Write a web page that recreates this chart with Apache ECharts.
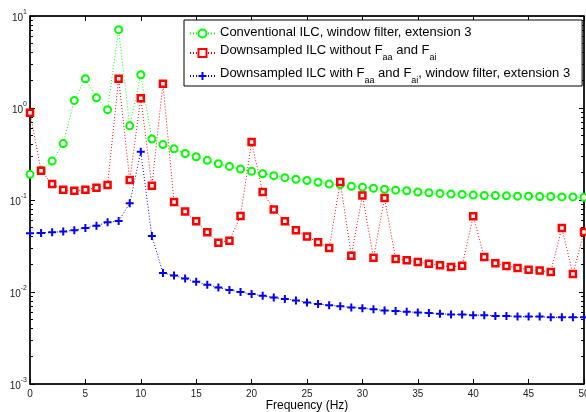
<!DOCTYPE html>
<html>
<head>
<meta charset="utf-8">
<script src="https://cdn.jsdelivr.net/npm/echarts@6/dist/echarts.min.js"></script>
<style>
  html, body { margin: 0; padding: 0; background: #fff; }
  #main { width: 586px; height: 412px; }
</style>
</head>
<body>
<div id="main"></div>
<script>
// frequency bins (Hz)
var freq = [0, 1, 2, 3, 4, 5, 6, 7, 8, 9, 10, 11, 12, 13, 14, 15, 16, 17, 18, 19, 20,
  21, 22, 23, 24, 25, 26, 27, 28, 29, 30, 31, 32, 33, 34, 35, 36, 37, 38, 39, 40,
  41, 42, 43, 44, 45, 46, 47, 48, 49, 50];

// Conventional ILC, window filter, extension 3
var conventional = [0.19, 0.21, 0.265, 0.41, 1.21, 2.08, 1.29, 0.96, 7.1, 0.64, 2.30,
  0.46, 0.40, 0.36, 0.32, 0.295, 0.27, 0.248, 0.232, 0.217, 0.205,
  0.193, 0.184, 0.175, 0.168, 0.163, 0.156, 0.149, 0.147, 0.141, 0.138,
  0.134, 0.131, 0.128, 0.126, 0.122, 0.120, 0.118, 0.116, 0.115, 0.113,
  0.112, 0.112, 0.111, 0.110, 0.110, 0.109, 0.109, 0.108, 0.108, 0.107];

// Downsampled ILC without Faa and Fai
var withoutF = [0.89, 0.208, 0.149, 0.129, 0.126, 0.129, 0.136, 0.146, 2.08, 0.165, 1.28,
  0.143, 1.84, 0.095, 0.075, 0.0587, 0.0445, 0.0344, 0.0361, 0.067, 0.427,
  0.122, 0.079, 0.0587, 0.047, 0.040, 0.0347, 0.030, 0.157, 0.0248, 0.112,
  0.0236, 0.105, 0.0229, 0.0221, 0.0212, 0.0203, 0.0195, 0.0187, 0.0193, 0.0665,
  0.024, 0.0205, 0.0192, 0.0182, 0.0175, 0.0171, 0.0165, 0.0497, 0.0157, 0.045];

// Downsampled ILC with Faa and Fai, window filter, extension 3
var withF = [0.0434, 0.0438, 0.0445, 0.0455, 0.047, 0.0497, 0.0526, 0.0572, 0.0591, 0.092, 0.335,
  0.0406, 0.0161, 0.0151, 0.0140, 0.0129, 0.0120, 0.0112, 0.0105, 0.0100, 0.0095,
  0.0091, 0.0087, 0.0084, 0.0081, 0.0077, 0.0074, 0.0072, 0.0070, 0.0068, 0.00665,
  0.0065, 0.0063, 0.0062, 0.0061, 0.0060, 0.0059, 0.0058, 0.0057, 0.0057, 0.0056,
  0.0056, 0.0055, 0.0055, 0.0054, 0.0054, 0.0054, 0.0053, 0.0053, 0.0053, 0.0053];

var seriesNames = [
  'Conventional ILC, window filter, extension 3',
  'Downsampled ILC without Faa and Fai',
  'Downsampled ILC with Faa and Fai, window filter, extension 3'
];
// legend text with subscripts
var legendRich = {};
legendRich[seriesNames[0]] = '{t|Conventional ILC, window filter, extension 3}';
legendRich[seriesNames[1]] = '{t|Downsampled ILC without F}{s|aa}{t| and F}{s|ai}';
legendRich[seriesNames[2]] = '{t|Downsampled ILC with F}{s|aa}{t| and F}{s|ai}{t|, window filter, extension 3}';

// y axis: decades and minor tick multipliers
var yMin = 0.001, yMax = 10;
var minorMult = [2, 3, 4, 5, 6, 7, 8, 9];
var decades = [-3, -2, -1, 0];

var minorTicks = [];
decades.forEach(function (k) {
  minorMult.forEach(function (m) { minorTicks.push(k + Math.log10(m)); });
});

function pairs(ys) {
  return freq.map(function (f, i) { return [f, ys[i]]; });
}

var FONT = 'Liberation Sans, Arial, Helvetica, sans-serif';
var plus = 'path://M3,0h2v3h3v2h-3v3h-2v-3h-3v-2h3z';
var AXW = 1.5;

var chart = echarts.init(document.getElementById('main'));

function minorAxis(pos) {
  return {
    type: 'value', position: pos, min: -3, max: 1,
    axisLine: { show: false, onZero: false },
    axisTick: { show: true, inside: true, length: 3, customValues: minorTicks,
      lineStyle: { color: '#000', width: 1 } },
    axisLabel: { show: false },
    splitLine: { show: false }
  };
}

chart.setOption({
  animation: false,
  textStyle: { fontFamily: FONT },
  grid: {
    left: 30, right: 2, top: 16, bottom: 28, containLabel: false, outerBoundsMode: 'none',
    show: true, borderColor: '#000', borderWidth: 1, backgroundColor: 'transparent'
  },
  legend: {
    orient: 'vertical',
    left: 184, top: 20,
    padding: [6, 12, 1, 5],
    itemGap: 5,
    itemWidth: 25, itemHeight: 10,
    backgroundColor: '#fff',
    borderColor: '#000', borderWidth: 1, borderRadius: 0,
    data: seriesNames,
    formatter: function (name) { return legendRich[name]; },
    textStyle: {
      fontFamily: FONT, fontSize: 13, color: '#000',
      rich: {
        t: { fontFamily: FONT, fontSize: 13, color: '#000', lineHeight: 15, verticalAlign: 'top' },
        s: { fontFamily: FONT, fontSize: 9, color: '#000', lineHeight: 18, verticalAlign: 'bottom' }
      }
    }
  },
  xAxis: [{
    type: 'value', min: 0, max: 50, interval: 5,
    name: 'Frequency (Hz)', nameLocation: 'middle', nameGap: 16, nameMoveOverlap: false,
    nameTextStyle: { fontFamily: FONT, fontSize: 12, color: '#000' },
    axisLine: { onZero: false, lineStyle: { color: '#000', width: AXW } },
    axisTick: { inside: true, length: 5, lineStyle: { color: '#000' } },
    axisLabel: { fontFamily: FONT, fontSize: 10, color: '#222', margin: 5, showMaxLabel: true },
    splitLine: { show: false }
  }, {
    type: 'value', position: 'top', min: 0, max: 50, interval: 5,
    axisLine: { show: true, onZero: false, lineStyle: { color: '#000', width: AXW } },
    axisTick: { show: true, inside: true, length: 5, lineStyle: { color: '#000' } },
    axisLabel: { show: false },
    splitLine: { show: false }
  }],
  yAxis: [{
    type: 'log', logBase: 10, min: yMin, max: yMax, position: 'left',
    axisLine: { onZero: false, lineStyle: { color: '#000', width: AXW } },
    axisTick: { inside: true, length: 5, lineStyle: { color: '#000' } },
    axisLabel: {
      margin: 3,
      formatter: function (v) { return '{b|10}{e|' + Math.round(Math.log10(v)) + '}'; },
      rich: {
        b: { fontFamily: FONT, fontSize: 10, color: '#222', lineHeight: 14, verticalAlign: 'bottom' },
        e: { fontFamily: FONT, fontSize: 7, color: '#222', lineHeight: 14, verticalAlign: 'top' }
      }
    },
    splitLine: { show: false }
  }, {
    type: 'log', logBase: 10, min: yMin, max: yMax, position: 'right',
    axisLine: { onZero: false, lineStyle: { color: '#000', width: AXW } },
    axisTick: { inside: true, length: 5, lineStyle: { color: '#000' } },
    axisLabel: { show: false },
    splitLine: { show: false }
  }, minorAxis('left'), minorAxis('right')],
  series: [{
    name: seriesNames[0], type: 'line', data: pairs(conventional),
    symbol: 'circle', symbolSize: 7,
    itemStyle: { color: '#fff', borderColor: '#00ff00', borderWidth: 2 },
    lineStyle: { color: '#00ff00', width: 1, type: [1, 2] }
  }, {
    name: seriesNames[1], type: 'line', data: pairs(withoutF),
    symbol: 'rect', symbolSize: 6,
    itemStyle: { color: '#fff', borderColor: '#ff0000', borderWidth: 2.5 },
    lineStyle: { color: '#ff0000', width: 1, type: [1, 2] }
  }, {
    name: seriesNames[2], type: 'line', data: pairs(withF),
    symbol: plus, symbolSize: 8,
    itemStyle: { color: '#0000ff', borderWidth: 0 },
    lineStyle: { color: '#0000ff', width: 1, type: [1, 2] }
  }]
});
</script>
</body>
</html>
